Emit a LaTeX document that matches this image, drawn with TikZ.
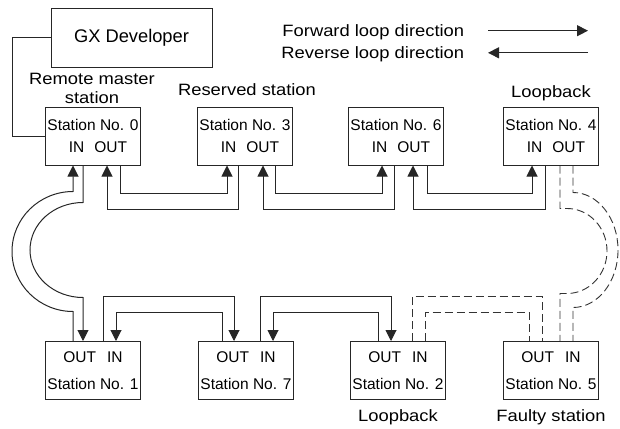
\documentclass[tikz,border=0pt]{standalone}
\usepackage{fontspec}
\setmainfont{Liberation Sans}
\newfontfamily\lblfont{Liberation Sans}[FakeStretch=1.12]
\usetikzlibrary{arrows.meta,positioning,calc}

\begin{document}
\begin{tikzpicture}[
  x=1pt, y=-1pt, line width=1pt, draw=black!85,
  >={Triangle[length=11pt,width=11pt]},
  stn/.style={draw, minimum width=95pt, minimum height=58pt, inner sep=0pt, align=center, font=\fontsize{15.5}{18.5}\selectfont},
  lbl/.style={align=center, font=\lblfont\fontsize{16.4}{19}\selectfont},
  link/.style={->, black!85},
  fault/.style={black!80, line width=0.9pt, dash pattern=on 8pt off 4pt},
]
\useasboundingbox (0,0) rectangle (620,428);
% peripheral
\node[draw, minimum width=161pt, minimum height=58pt, font=\fontsize{18.3}{22}\selectfont] (gx) at (131.5,38) {GX Developer};
% legend
\node[lbl, anchor=base east] (fwdlbl) at (468,36.7) {Forward loop direction};
\node[lbl, anchor=base east] (revlbl) at (468,58.3) {Reverse loop direction};
\draw[link] ($(fwdlbl.base east)+(20,-6)$) -- ++(100,0);
\draw[link] ($(revlbl.base east)+(120,-5.5)$) -- ++(-100,0);
% stations, upper row
\node[stn] (s0) at (93,136) {Station No. 0\\[3.2pt]\hspace*{10pt}IN\hspace{10pt}OUT};
\node[stn] (s3) at (245,136) {Station No. 3\\[3.2pt]\hspace*{10pt}IN\hspace{10pt}OUT};
\node[stn] (s6) at (396,136) {Station No. 6\\[3.2pt]\hspace*{10pt}IN\hspace{10pt}OUT};
\node[stn] (s4) at (551,136) {Station No. 4\\[3.2pt]\hspace*{10pt}IN\hspace{10pt}OUT};
% stations, lower row
\node[stn] (s1) at (93,370.5) {OUT\hspace{11pt}IN\\[8.2pt]Station No. 1};
\node[stn] (s7) at (246,370.5) {OUT\hspace{11pt}IN\\[8.2pt]Station No. 7};
\node[stn] (s2) at (398,370.5) {OUT\hspace{11pt}IN\\[8.2pt]Station No. 2};
\node[stn] (s5) at (551,370.5) {OUT\hspace{11pt}IN\\[8.2pt]Station No. 5};
% labels
\node[lbl] (master) at (92,88) {Remote master\\station};
\node[lbl, anchor=base] (resv) at (247,95) {Reserved station};
\node[lbl, anchor=base] (lbk4) at (551,97.5) {Loopback};
\node[lbl, anchor=base] (lbk2) at (398,421.7) {Loopback};
\node[lbl, anchor=base] (faulty) at (551,421.7) {Faulty station};
% GX Developer to master
\draw (gx.west) -- ++(-38,0) |- (s0.west);
% upper row links
\draw[link] ($(s0.south)+(27,0)$) -- ++(0,28) -| ($(s3.south)+(-18,0)$);
\draw[link] ($(s3.south)+(-7,0)$) -- ++(0,44) -| ($(s0.south)+(14,0)$);
\draw[link] ($(s3.south)+(30,0)$) -- ++(0,28) -| ($(s6.south)+(-14,0)$);
\draw[link] ($(s6.south)+(-2,0)$) -- ++(0,44) -| ($(s3.south)+(18,0)$);
\draw[link] ($(s6.south)+(31,0)$) -- ++(0,28) -| ($(s4.south)+(-19,0)$);
\draw[link] ($(s4.south)+(-6,0)$) -- ++(0,44) -| ($(s6.south)+(17,0)$);
% lower row links
\draw[link] ($(s1.north)+(10,0)$) -- ++(0,-44.5) -| ($(s7.north)+(-12,0)$);
\draw[link] ($(s7.north)+(-24,0)$) -- ++(0,-28.5) -| ($(s1.north)+(23,0)$);
\draw[link] ($(s7.north)+(14,0)$) -- ++(0,-44.5) -| ($(s2.north)+(-7,0)$);
\draw[link] ($(s2.north)+(-20,0)$) -- ++(0,-28.5) -| ($(s7.north)+(27,0)$);
% left loop
\draw[link] ($(s1.north)+(-20,0)$) -- ++(0,-29.5) arc[start angle=90, end angle=270, x radius=61, y radius=60] -- ($(s0.south)+(-20,0)$);
\draw[link] ($(s0.south)+(-10,0)$) -- ++(0,37) arc[start angle=270, end angle=90, x radius=53, y radius=47.5] -- ($(s1.north)+(-10,0)$);
% broken path through faulty station
\draw[fault] ($(s2.north)+(14,0)$) -- ++(0,-44.5) -| ($(s5.north)+(-9,0)$);
\draw[fault] ($(s2.north)+(27,0)$) -- ++(0,-28.5) -| ($(s5.north)+(-22,0)$);
\draw[fault] ($(s4.south)+(9,0)$) -- ++(0,43) -- ++(7,0) arc[start angle=-90, end angle=90, x radius=40, y radius=42.5] -- ++(-7,0) -- ($(s5.north)+(9,0)$);
\draw[fault] ($(s4.south)+(22,0)$) -- ++(0,27) arc[start angle=-90, end angle=90, x radius=45, y radius=57.5] -- ($(s5.north)+(22,0)$);
\end{tikzpicture}
\end{document}
